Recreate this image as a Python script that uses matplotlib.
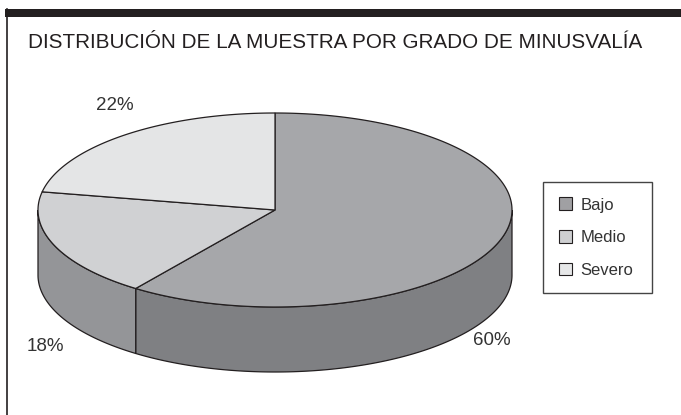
import numpy as np
import matplotlib
matplotlib.use("Agg")
import matplotlib.pyplot as plt
from matplotlib.patches import Polygon, Rectangle, Patch
from matplotlib.lines import Line2D

W, H = 681, 415

# data
categories = ['Bajo', 'Medio', 'Severo']
values = [60, 18, 22]
pct_labels = ['60%', '18%', '22%']
TITLE = 'DISTRIBUCIÓN DE LA MUESTRA POR GRADO DE MINUSVALÍA'

# colours
top_colors = ['#a6a7aa', '#d0d1d3', '#e4e5e6']
side_colors = ['#7f8083', '#949598', '#b9babc']
legend_colors = ['#a0a0a3', '#cecfd1', '#e6e7e8']
EDGE = '#231f20'
TEXT = '#333333'

# pie geometry (pixels)
CX, CY, RX, RY, DEPTH = 275, 210, 237, 97, 65

plt.rcParams['font.family'] = ['Liberation Sans', 'DejaVu Sans']

fig = plt.figure(figsize=(W / 100, H / 100), dpi=100)
ax = fig.add_axes([0, 0, 1, 1])
ax.set_xlim(0, W)
ax.set_ylim(H, 0)
ax.axis('off')

#Frame: thick bar on top + left rule
ax.add_patch(Rectangle((5, 9), W - 5, 8, facecolor=EDGE, edgecolor='none'))
ax.add_line(Line2D([6.5, 6.5], [9, H], color=EDGE, lw=1.2))

#Title, sized so it spans the same width as the reference (~611 px)
title = ax.text(28, 48, TITLE, fontsize=17, color=EDGE,
                ha='left', va='baseline')
renderer = fig.canvas.get_renderer()
tw = title.get_window_extent(renderer).width
title.set_fontsize(17 * 611 / tw)


def ellipse_pts(t, dy=0):
    return np.column_stack([CX + RX * np.cos(t), CY - RY * np.sin(t) + dy])


#Slice angles, start at 12 o'clock, clockwise
fracs = np.array(values) / sum(values)
bounds = np.pi / 2 - 2 * np.pi * np.concatenate([[0], np.cumsum(fracs)])

#Sides (only front half is visible)
for i in range(len(values)):
    t0, t1 = bounds[i], bounds[i + 1]
    a0 = max(t1, -np.pi)
    a1 = min(t0, 0)
    if a1 > a0:
        t = np.linspace(a0, a1, 200)
        pts = np.vstack([ellipse_pts(t), ellipse_pts(t[::-1], DEPTH)])
        ax.add_patch(Polygon(pts, closed=True, facecolor=side_colors[i],
                             edgecolor=EDGE, lw=0.9, zorder=1))

#Tops
for i in range(len(values)):
    t = np.linspace(bounds[i], bounds[i + 1], 300)
    pts = np.vstack([[CX, CY], ellipse_pts(t)])
    ax.add_patch(Polygon(pts, closed=True, facecolor=top_colors[i],
                         edgecolor=EDGE, lw=0.9, zorder=2))

#Percent labels
for i in range(len(values)):
    mid = (bounds[i] + bounds[i + 1]) / 2
    s = np.sin(mid)
    x = CX + RX * np.cos(mid) - 9
    y = CY - RY * s + (DEPTH + 36 if s < 0 else -30)
    ax.text(x, y, pct_labels[i], fontsize=13.5, color=TEXT,
            ha='center', va='center')

#Legend
handles = [Patch(facecolor=c, edgecolor=EDGE, lw=0.8) for c in legend_colors]
leg = ax.legend(handles, categories, loc='upper left', mode='expand',
                bbox_to_anchor=(543 / W, 1 - 290 / H, 109 / W, 108 / H),
                fontsize=12, frameon=True, fancybox=False,
                edgecolor='#444444', framealpha=1,
                handlelength=0.8, handleheight=0.8, handletextpad=0.5,
                labelspacing=1.04, borderpad=0.93, borderaxespad=0)
leg.get_frame().set_linewidth(1.0)
for txt in leg.get_texts():
    txt.set_color(TEXT)

fig.savefig('out.png', dpi=100)
